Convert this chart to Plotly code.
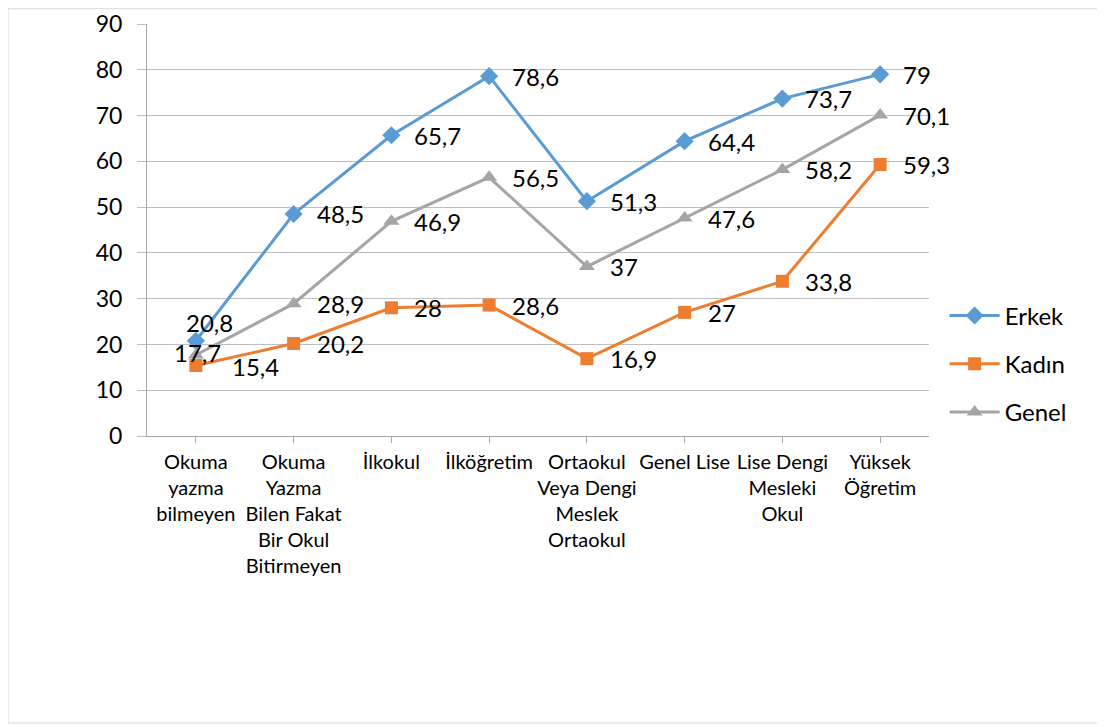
import plotly.graph_objects as go

categories = [
    "Okuma<br>yazma<br>bilmeyen",
    "Okuma<br>Yazma<br>Bilen Fakat<br>Bir Okul<br>Bitirmeyen",
    "İlkokul",
    "İlköğretim",
    "Ortaokul<br>Veya Dengi<br>Meslek<br>Ortaokul",
    "Genel Lise",
    "Lise Dengi<br>Mesleki<br>Okul",
    "Yüksek<br>Öğretim",
]
erkek = [20.8, 48.5, 65.7, 78.6, 51.3, 64.4, 73.7, 79.0]
kadin = [15.4, 20.2, 28.0, 28.6, 16.9, 27.0, 33.8, 59.3]
genel = [17.7, 28.9, 46.9, 56.5, 37.0, 47.6, 58.2, 70.1]
y_ticks = [0, 10, 20, 30, 40, 50, 60, 70, 80, 90]

FONT = "Lato"
series = [
    ("Erkek", erkek, "#5B9BD5", "diamond", 14),
    ("Kadın", kadin, "#ED7D31", "square", 13),
    ("Genel", genel, "#A5A5A5", "triangle-up", 14),
]

fig = go.Figure()
for i, (name, vals, color, sym, ms) in enumerate(series):
    fig.add_trace(go.Scatter(
        x=list(range(len(categories))), y=vals, name=name,
        mode="lines+markers",
        line=dict(color=color, width=3),
        marker=dict(symbol=sym, size=ms, color=color),
        legendgroup=name,
    ))

# label placement overrides (style only)
overrides = {
    ("Erkek", 0): dict(xanchor="center", xshift=14, yshift=18),
    ("Genel", 0): dict(xanchor="center", xshift=2, yshift=2),
    ("Kadın", 0): dict(xanchor="center", xshift=60, yshift=-1),
}

def fmt(v):
    s = ("%g" % v)
    return s.replace(".", ",")

annotations = []
for name, vals, color, sym, ms in series:
    for j, v in enumerate(vals):
        opts = dict(xanchor="left", xshift=21, yshift=0)
        opts.update(overrides.get((name, j), {}))
        annotations.append(dict(
            x=j, y=v, xref="x", yref="y", text=fmt(v), showarrow=False,
            yanchor="middle", font=dict(family=FONT, size=24, color="#000000"),
            **opts))

fig.update_layout(
    width=1097, height=719,
    margin=dict(l=139, r=176, t=16, b=291, autoexpand=False),
    paper_bgcolor="white", plot_bgcolor="white",
    font=dict(family=FONT, color="#000000"),
    showlegend=True,
    legend=dict(
        x=1.02, y=0.175, xanchor="left", yanchor="middle",
        font=dict(family=FONT, size=24, color="#000000"),
        traceorder="grouped", tracegroupgap=14, itemwidth=50,
        bgcolor="rgba(0,0,0,0)",
    ),
    annotations=annotations,
    shapes=[dict(type="rect", xref="paper", yref="paper",
                 x0=-0.1777, x1=1.2187, y0=-0.6966, y1=1.037,
                 line=dict(color="#D9D9D9", width=1), layer="below")],
)
fig.update_xaxes(
    range=[-0.5, 7.5], automargin=False,
    tickmode="array", tickvals=list(range(len(categories))), ticktext=categories,
    showgrid=False, showline=True, linecolor="#A6A6A6", linewidth=1,
    ticks="outside", ticklen=6, tickcolor="#A6A6A6",
    tickfont=dict(family=FONT, size=20, color="#000000"),
    zeroline=False, ticklabelstandoff=2,
)
fig.update_yaxes(
    range=[0, 90], tickmode="array", tickvals=y_ticks, automargin=False,
    ticktext=[str(t) for t in y_ticks],
    showgrid=True, gridcolor="#BFBFBF", gridwidth=1,
    showline=True, linecolor="#A6A6A6", linewidth=1,
    ticks="outside", ticklen=9, tickcolor="#BFBFBF",
    tickfont=dict(family=FONT, size=23, color="#000000"),
    zeroline=False, ticklabelstandoff=10,
)

fig.write_html("out.html")
